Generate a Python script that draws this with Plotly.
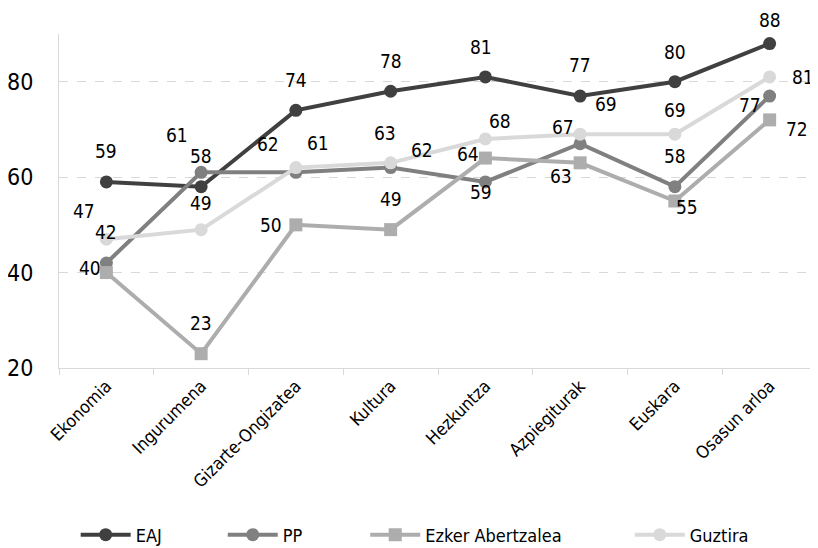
import plotly.graph_objects as go

categories = ["Ekonomia", "Ingurumena", "Gizarte-Ongizatea", "Kultura", "Hezkuntza", "Azpiegiturak", "Euskara", "Osasun arloa"]
eaj = [59, 58, 74, 78, 81, 77, 80, 88]
pp = [42, 61, 61, 62, 59, 67, 58, 77]
ezker = [40, 23, 50, 49, 64, 63, 55, 72]
guztira = [47, 49, 62, 63, 68, 69, 69, 81]

FONT = "DejaVu Sans Condensed, Liberation Sans Narrow, sans-serif"

# label offsets in pixels (dx, dy) relative to each point
off_eaj = [(0, -31), (0, -31), (0, -30), (0, -30), (-4, -30), (0, -31), (0, -30), (0, -24)]
off_pp = [(0, -31), (-24, -37), (22, -29), (31, -18), (-4, 10), (-17, -17), (0, -31), (-20, 9)]
off_ezker = [(-16, -5), (0, -31), (-25, 0), (0, -31), (-17, -4), (-19, 13), (12, 6), (27, 9)]
off_guztira = [(-22, -28), (0, -27), (-28, -24), (-6, -30), (15, -18), (26, -30), (0, -24), (33, 0)]

series = [
    ("EAJ", eaj, "#404040", "circle", off_eaj),
    ("PP", pp, "#808080", "circle", off_pp),
    ("Ezker Abertzalea", ezker, "#adadad", "square", off_ezker),
    ("Guztira", guztira, "#d9d9d9", "circle", off_guztira),
]

# legend x positions (fraction of plot width) for each entry
legend_x = [0.022, 0.216, 0.404, 0.753]

fig = go.Figure()
annotations = []
for i, (name, vals, color, sym, offs) in enumerate(series):
    lg = "legend" if i == 0 else f"legend{i+1}"
    fig.add_trace(go.Scatter(
        x=categories, y=vals, name=name, mode="lines+markers",
        line=dict(color=color, width=4),
        marker=dict(color=color, size=13, symbol=sym),
        cliponaxis=False, legend=lg,
    ))
    for c, v, (dx, dy) in zip(categories, vals, offs):
        annotations.append(dict(
            x=c, y=v, xref="x", yref="y", text=str(v), showarrow=False,
            xshift=dx, yshift=-dy, xanchor="center", yanchor="middle",
            font=dict(family=FONT, size=19, color="#000000"),
        ))

legend_common = dict(orientation="h", y=-0.5, yanchor="middle", xanchor="left",
                     font=dict(size=18, family=FONT), bgcolor="rgba(0,0,0,0)",
                     itemwidth=50)
layout_legends = {}
for i, lx in enumerate(legend_x):
    key = "legend" if i == 0 else f"legend{i+1}"
    layout_legends[key] = dict(x=lx, **legend_common)

# page body has an 8px default margin, so the figure is made 8px smaller
fig.update_layout(
    width=810, height=540,
    margin=dict(l=51, r=1, t=26, b=180, autoexpand=False),
    plot_bgcolor="white", paper_bgcolor="white",
    font=dict(family=FONT, color="#000000"),
    showlegend=True,
    annotations=annotations,
    xaxis=dict(
        type="category", tickangle=-45, tickfont=dict(size=17.5, family=FONT),
        showgrid=False, showline=True, linecolor="#d9d9d9", linewidth=1,
        ticks="outside", ticklen=6, tickcolor="#d9d9d9", tickson="boundaries",
        range=[-0.5, 7.5], zeroline=False, automargin=False,
    ),
    yaxis=dict(
        range=[20, 90], tickvals=[20, 40, 60, 80], tickfont=dict(size=23, family=FONT),
        showgrid=True, gridcolor="#d9d9d9", griddash="dash", gridwidth=1,
        showline=True, linecolor="#d9d9d9", linewidth=1, zeroline=False,
        ticks="", ticklabelstandoff=20, automargin=False,
    ),
    **layout_legends,
)

fig.write_html("out.html")
